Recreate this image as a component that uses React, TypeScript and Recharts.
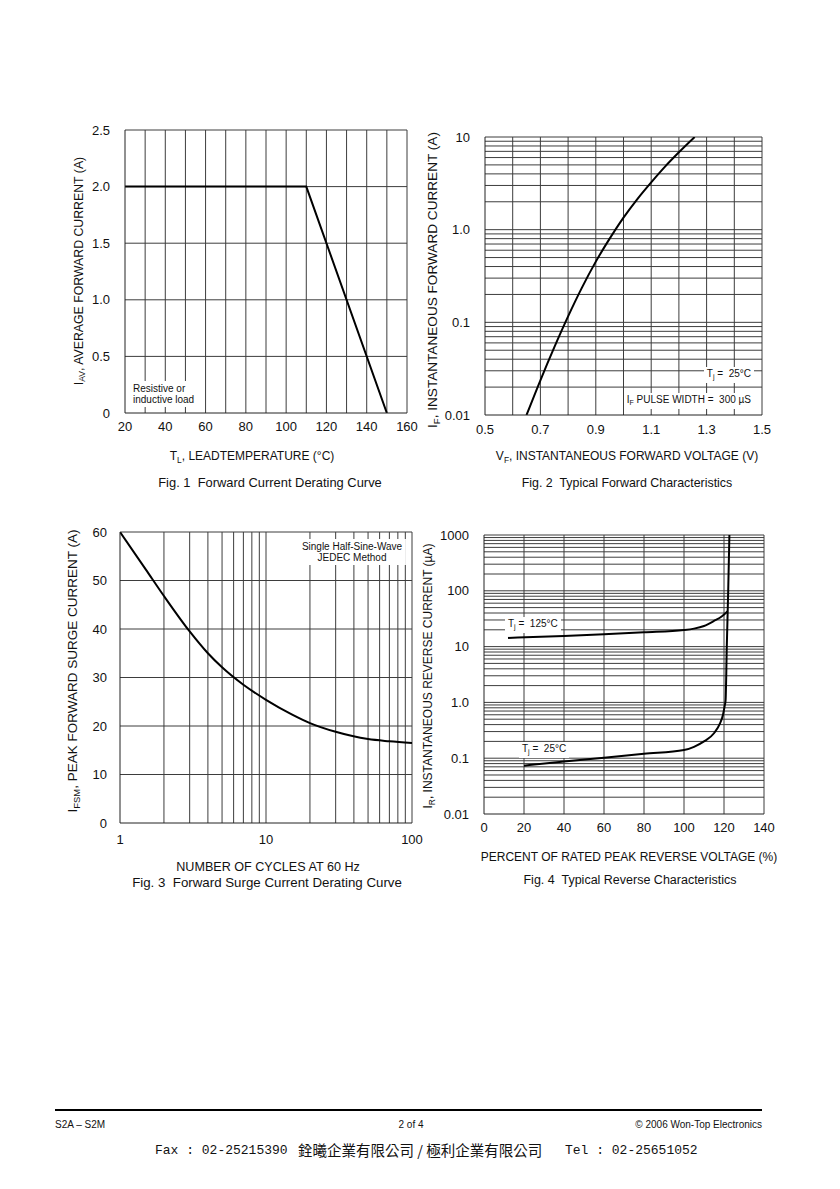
import React from 'react';
import { LineChart, Line, XAxis, YAxis, CartesianGrid } from 'recharts';

const SANS = '"Liberation Sans", Arial, Helvetica, sans-serif';

// Fig. 1  Forward current derating
const fig1Temp = [20, 110, 150];
const fig1Iav = [2.0, 2.0, 0];
const fig1XTicks = [20, 40, 60, 80, 100, 120, 140, 160];
const fig1XLabels = ['20', '40', '60', '80', '100', '120', '140', '160'];
const fig1YTicks = [0, 0.5, 1.0, 1.5, 2.0, 2.5];
const fig1YLabels = ['0', '0.5', '1.0', '1.5', '2.0', '2.5'];
const fig1XGrid = [30, 40, 50, 60, 70, 80, 90, 100, 110, 120, 130, 140, 150, 160];
const fig1YGrid = [0.5, 1.0, 1.5, 2.0, 2.5];

// Fig. 2  Typical forward characteristics
const fig2Vf = [0.65, 0.7, 0.75, 0.8, 0.85, 0.9, 0.95, 1.0, 1.05, 1.1, 1.15, 1.2, 1.257];
const fig2If = [0.01, 0.0237, 0.0537, 0.116, 0.237, 0.452, 0.8, 1.35, 2.14, 3.24, 4.79, 6.84, 10];
const fig2XTicks = [0.5, 0.7, 0.9, 1.1, 1.3, 1.5];
const fig2XLabels = ['0.5', '0.7', '0.9', '1.1', '1.3', '1.5'];
const fig2YTicks = [0.01, 0.1, 1, 10];
const fig2YLabels = ['0.01', '0.1', '1.0', '10'];
const fig2XGrid = [0.6, 0.7, 0.8, 0.9, 1.0, 1.1, 1.2, 1.3, 1.4, 1.5];
const fig2YGrid = [
  0.02, 0.03, 0.04, 0.05, 0.06, 0.07, 0.08, 0.09, 0.1,
  0.2, 0.3, 0.4, 0.5, 0.6, 0.7, 0.8, 0.9, 1,
  2, 3, 4, 5, 6, 7, 8, 9, 10,
];

// Fig. 3  Forward surge current derating
const fig3Cycles = [1, 1.5, 2, 3, 4, 5, 7, 10, 15, 20, 30, 50, 70, 100];
const fig3Ifsm = [60, 52.3, 46.8, 39.5, 35.0, 32.1, 28.5, 25.4, 22.4, 20.6, 18.8, 17.3, 16.85, 16.5];
const fig3XTicks = [1, 10, 100];
const fig3XLabels = ['1', '10', '100'];
const fig3YTicks = [0, 10, 20, 30, 40, 50, 60];
const fig3YLabels = ['0', '10', '20', '30', '40', '50', '60'];
const fig3XGrid = [2, 3, 4, 5, 6, 7, 8, 9, 10, 20, 30, 40, 50, 60, 70, 80, 90, 100];
const fig3YGrid = [10, 20, 30, 40, 50, 60];

// Fig. 4  Typical reverse characteristics
const fig4Pct125 = [12, 40, 60, 80, 100, 105, 110, 115, 119, 121.8];
const fig4Ir125 = [14.3, 15.5, 16.6, 18, 19.8, 21, 23.4, 28.8, 35, 43];
const fig4Pct25 = [20, 40, 60, 80, 100, 105, 110, 115, 118, 119.5, 120.3, 120.8, 121.4, 122.1, 122.7];
const fig4Ir25 = [0.0735, 0.087, 0.102, 0.12, 0.14, 0.16, 0.2, 0.28, 0.42, 0.6, 0.85, 1.1, 10, 100, 1000];
const fig4XTicks = [0, 20, 40, 60, 80, 100, 120, 140];
const fig4XLabels = ['0', '20', '40', '60', '80', '100', '120', '140'];
const fig4YTicks = [0.01, 0.1, 1, 10, 100, 1000];
const fig4YLabels = ['0.01', '0.1', '1.0', '10', '100', '1000'];
const fig4XGrid = [20, 40, 60, 80, 100, 120, 140];
const fig4YGrid = [
  0.02, 0.03, 0.04, 0.05, 0.06, 0.07, 0.08, 0.09, 0.1,
  0.2, 0.3, 0.4, 0.5, 0.6, 0.7, 0.8, 0.9, 1,
  2, 3, 4, 5, 6, 7, 8, 9, 10,
  20, 30, 40, 50, 60, 70, 80, 90, 100,
  200, 300, 400, 500, 600, 700, 800, 900, 1000,
];

const toPoints = (xs: number[], ys: number[]) => xs.map((x, i) => ({ x, y: ys[i] }));
const labelOf = (ticks: number[], labels: string[]) => (v: number) => {
  const i = ticks.findIndex((t) => Math.abs(t - v) < 1e-9);
  return i >= 0 ? labels[i] : String(v);
};

type Box = { l: number; t: number; r: number; b: number };

interface PanelProps {
  plot: Box;
  xDomain: [number, number];
  yDomain: [number, number];
  xLog?: boolean;
  yLog?: boolean;
  xTicks: number[];
  xLabels: string[];
  yTicks: number[];
  yLabels: string[];
  xGrid: number[];
  yGrid: number[];
  xTickGap: number;
  yTickGap: number;
  series: { x: number; y: number }[][];
  curve: 'linear' | 'monotone';
}

function Panel(p: PanelProps) {
  const ML = 60;
  const MT = 10;
  const MR = 24;
  const XH = 30;
  const w = p.plot.r - p.plot.l + ML + MR;
  const h = p.plot.b - p.plot.t + MT + XH;
  const tickStyle = { fontSize: 13, fill: '#111', fontFamily: SANS };
  return (
    <div style={{ position: 'absolute', left: p.plot.l - ML, top: p.plot.t - MT }}>
      <LineChart width={w} height={h} margin={{ top: MT, right: MR, bottom: 0, left: 0 }}>
        <CartesianGrid stroke="#3d3d3d" strokeWidth={1} horizontalValues={p.yGrid} verticalValues={p.xGrid} />
        <XAxis
          type="number"
          dataKey="x"
          domain={p.xDomain}
          scale={p.xLog ? 'log' : 'linear'}
          allowDataOverflow
          ticks={p.xTicks}
          interval={0}
          tickFormatter={labelOf(p.xTicks, p.xLabels)}
          height={XH}
          tickLine={false}
          tickSize={0}
          tickMargin={p.xTickGap}
          axisLine={{ stroke: '#222' }}
          tick={tickStyle}
        />
        <YAxis
          type="number"
          dataKey="y"
          domain={p.yDomain}
          scale={p.yLog ? 'log' : 'linear'}
          allowDataOverflow
          ticks={p.yTicks}
          interval={0}
          tickFormatter={labelOf(p.yTicks, p.yLabels)}
          width={ML}
          tickLine={false}
          tickSize={0}
          tickMargin={p.yTickGap}
          axisLine={{ stroke: '#222' }}
          tick={tickStyle}
        />
        {p.series.map((s, i) => (
          <Line
            key={i}
            data={s}
            dataKey="y"
            type={p.curve}
            stroke="#000"
            strokeWidth={2}
            dot={false}
            activeDot={false}
            isAnimationActive={false}
          />
        ))}
      </LineChart>
    </div>
  );
}

const abs = (extra: React.CSSProperties): React.CSSProperties => ({
  position: 'absolute',
  fontFamily: SANS,
  color: '#111',
  whiteSpace: 'pre',
  lineHeight: 1,
  ...extra,
});

function Centered({ x, y, size, children }: { x: number; y: number; size: number; children: React.ReactNode }) {
  return (
    <div style={abs({ left: x, top: y, fontSize: size, transform: 'translate(-50%, -50%)' })}>{children}</div>
  );
}

function Rotated({ x, y, size, children }: { x: number; y: number; size: number; children: React.ReactNode }) {
  return (
    <div style={abs({ left: x, top: y, fontSize: size, transform: 'translate(-50%, -50%) rotate(-90deg)' })}>
      {children}
    </div>
  );
}

const Sub = ({ children }: { children: React.ReactNode }) => (
  <span style={{ fontSize: '0.7em', verticalAlign: '-0.3em' }}>{children}</span>
);

function Note({ style, children }: { style: React.CSSProperties; children: React.ReactNode }) {
  return (
    <div style={abs({ fontSize: 10, lineHeight: '11px', background: '#fff', padding: '2px 3px', ...style })}>
      {children}
    </div>
  );
}

export default function App() {
  return (
    <div style={{ position: 'absolute', left: 0, top: 0, width: 840, height: 1189, background: '#fff', overflow: 'hidden' }}>
      <Panel
        plot={{ l: 125, t: 130, r: 407, b: 413 }}
        xDomain={[20, 160]}
        yDomain={[0, 2.5]}
        xTicks={fig1XTicks}
        xLabels={fig1XLabels}
        yTicks={fig1YTicks}
        yLabels={fig1YLabels}
        xGrid={fig1XGrid}
        yGrid={fig1YGrid}
        xTickGap={9}
        yTickGap={15}
        series={[toPoints(fig1Temp, fig1Iav)]}
        curve="linear"
      />
      <Panel
        plot={{ l: 485, t: 137, r: 762, b: 415 }}
        xDomain={[0.5, 1.5]}
        yDomain={[0.01, 10]}
        yLog
        xTicks={fig2XTicks}
        xLabels={fig2XLabels}
        yTicks={fig2YTicks}
        yLabels={fig2YLabels}
        xGrid={fig2XGrid}
        yGrid={fig2YGrid}
        xTickGap={10}
        yTickGap={15}
        series={[toPoints(fig2Vf, fig2If)]}
        curve="monotone"
      />
      <Panel
        plot={{ l: 120, t: 532, r: 412, b: 823 }}
        xDomain={[1, 100]}
        yDomain={[0, 60]}
        xLog
        xTicks={fig3XTicks}
        xLabels={fig3XLabels}
        yTicks={fig3YTicks}
        yLabels={fig3YLabels}
        xGrid={fig3XGrid}
        yGrid={fig3YGrid}
        xTickGap={12}
        yTickGap={13}
        series={[toPoints(fig3Cycles, fig3Ifsm)]}
        curve="monotone"
      />
      <Panel
        plot={{ l: 484, t: 535, r: 764, b: 814 }}
        xDomain={[0, 140]}
        yDomain={[0.01, 1000]}
        yLog
        xTicks={fig4XTicks}
        xLabels={fig4XLabels}
        yTicks={fig4YTicks}
        yLabels={fig4YLabels}
        xGrid={fig4XGrid}
        yGrid={fig4YGrid}
        xTickGap={9}
        yTickGap={15}
        series={[toPoints(fig4Pct125, fig4Ir125), toPoints(fig4Pct25, fig4Ir25)]}
        curve="monotone"
      />

      {/* in-plot notes */}
      <Note style={{ left: 130, top: 381 }}>{'Resistive or\ninductive load'}</Note>
      <Note style={{ right: 86, top: 367, padding: '1px 3px' }}>
        T<Sub>j</Sub>{' =  25°C'}
      </Note>
      <Note style={{ right: 86, top: 393, padding: '1px 3px' }}>
        I<Sub>F</Sub>{' PULSE WIDTH =  300 µS'}
      </Note>
      <Note style={{ left: 352, top: 539, transform: 'translateX(-50%)', textAlign: 'center', padding: '2px 4px' }}>
        {'Single Half-Sine-Wave\nJEDEC Method'}
      </Note>
      <Note style={{ left: 505, top: 617, padding: '1px 3px' }}>
        T<Sub>j</Sub>{' =  125°C'}
      </Note>
      <Note style={{ left: 519, top: 742, padding: '1px 3px' }}>
        T<Sub>j</Sub>{' =  25°C'}
      </Note>

      {/* axis titles and captions */}
      <Rotated x={80} y={271} size={12.3}>
        I<Sub>AV</Sub>, AVERAGE FORWARD CURRENT (A)
      </Rotated>
      <Centered x={252} y={457} size={12}>
        T<Sub>L</Sub>, LEADTEMPERATURE (°C)
      </Centered>
      <Centered x={270} y={483} size={12.9}>
        {'Fig. 1  Forward Current Derating Curve'}
      </Centered>

      <Rotated x={434} y={280} size={13.6}>
        I<Sub>F</Sub>, INSTANTANEOUS FORWARD CURRENT (A)
      </Rotated>
      <Centered x={627} y={457} size={12}>
        V<Sub>F</Sub>, INSTANTANEOUS FORWARD VOLTAGE (V)
      </Centered>
      <Centered x={627} y={483} size={12.4}>
        {'Fig. 2  Typical Forward Characteristics'}
      </Centered>

      <Rotated x={74} y={671} size={13.5}>
        I<Sub>FSM</Sub>, PEAK FORWARD SURGE CURRENT (A)
      </Rotated>
      <Centered x={268} y={867} size={12.6}>
        NUMBER OF CYCLES AT 60 Hz
      </Centered>
      <Centered x={267} y={883} size={13.3}>
        {'Fig. 3  Forward Surge Current Derating Curve'}
      </Centered>

      <Rotated x={429} y={676} size={12}>
        I<Sub>R</Sub>, INSTANTANEOUS REVERSE CURRENT (µA)
      </Rotated>
      <Centered x={629} y={857} size={12}>
        PERCENT OF RATED PEAK REVERSE VOLTAGE (%)
      </Centered>
      <Centered x={630} y={880} size={12.5}>
        {'Fig. 4  Typical Reverse Characteristics'}
      </Centered>

      {/* footer */}
      <div style={{ position: 'absolute', left: 55, top: 1109, width: 707, height: 2, background: '#000' }} />
      <div style={abs({ left: 55, top: 1120, fontSize: 10 })}>S2A – S2M</div>
      <Centered x={411} y={1125} size={10}>
        2 of 4
      </Centered>
      <div style={abs({ right: 840 - 762, top: 1120, fontSize: 10 })}>© 2006 Won-Top Electronics</div>
      <div style={abs({ left: 155, top: 1144, fontSize: 13, fontFamily: '"Liberation Mono", "DejaVu Sans Mono", monospace' })}>
        Fax : 02-25215390
      </div>
      <div style={abs({ left: 298, top: 1143, fontSize: 14.5, fontFamily: '"Noto Sans CJK TC", "Noto Sans CJK SC", sans-serif' })}>
        {'銓曦企業有限公司 / 極利企業有限公司'}
      </div>
      <div style={abs({ left: 565, top: 1144, fontSize: 13, fontFamily: '"Liberation Mono", "DejaVu Sans Mono", monospace' })}>
        Tel : 02-25651052
      </div>
    </div>
  );
}
